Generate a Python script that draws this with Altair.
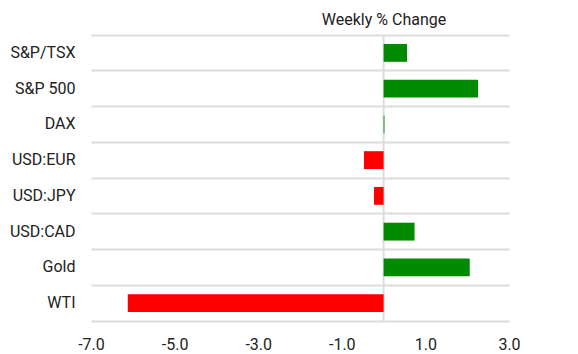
import altair as alt
import pandas as pd

categories = ["S&P/TSX", "S&P 500", "DAX", "USD:EUR", "USD:JPY", "USD:CAD", "Gold", "WTI"]
values = [0.56, 2.26, 0.02, -0.47, -0.23, 0.74, 2.06, -6.12]
x_ticks = [-7, -5, -3, -1, 1, 3]

df = pd.DataFrame({"asset": categories, "change": values})
df["sign"] = ["pos" if v >= 0 else "neg" for v in values]

FONT = "Roboto"
FS = 16

ycat = alt.Y(
    "asset:N",
    sort=categories,
    title=None,
    scale=alt.Scale(paddingInner=0, paddingOuter=0),
    axis=alt.Axis(
        grid=True, gridColor="#dcdcdc", gridWidth=2, bandPosition=0,
        domain=False, ticks=False, labelFontSize=FS, labelColor="#222222",
        labelFont=FONT, labelPadding=16,
    ),
)

bars = alt.Chart(df).mark_bar(height=alt.RelativeBandSize(0.5)).encode(
    x=alt.X(
        "change:Q",
        title=None,
        scale=alt.Scale(domain=[-7, 3], nice=False),
        axis=alt.Axis(
            values=x_ticks, grid=False, ticks=False,
            labelExpr="replace(format(datum.value, '.1f'), '\u2212', '-')",
            domain=True, domainColor="#dcdcdc", domainWidth=2,
            labelFontSize=FS, labelColor="#222222", labelFont=FONT,
            labelPadding=15, labelFlush=False,
        ),
    ),
    y=ycat,
    color=alt.Color(
        "sign:N",
        scale=alt.Scale(domain=["pos", "neg"], range=["#008a00", "#ff0000"]),
        legend=None,
    ),
)

zero = alt.Chart(pd.DataFrame({"z": [0]})).mark_rule(color="#dcdcdc", strokeWidth=2).encode(
    x="z:Q"
)

chart = alt.layer(zero, bars).properties(
    width=418,
    height=286,
    autosize=alt.AutoSizeParams(type="none"),
    padding={"left": 91, "top": 35, "right": 69, "bottom": 33},
    title=alt.TitleParams(
        "Weekly % Change", fontSize=FS, font=FONT, fontWeight="normal",
        color="#222222", anchor="middle", dx=84, offset=6,
    ),
).configure_view(stroke=None)

chart.save("out.html", embed_options={"renderer": "svg", "actions": False})
